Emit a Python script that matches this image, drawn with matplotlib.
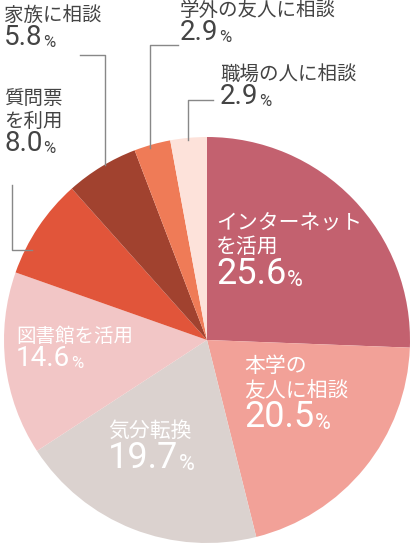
import matplotlib
matplotlib.use("Agg")
import matplotlib.pyplot as plt

plt.rcParams['font.family'] = ['Noto Sans CJK JP', 'DejaVu Sans']

labels = ["インターネット\nを活用", "本学の\n友人に相談", "気分転換", "図書館を活用",
          "質問票\nを利用", "家族に相談", "学外の友人に相談", "職場の人に相談"]
values = [25.6, 20.5, 19.7, 14.6, 8.0, 5.8, 2.9, 2.9]
colors = ["#c3616f", "#f2a198", "#dbd2cf", "#f2c6c6", "#e1553a", "#a1422f", "#ef7b57", "#fde2da"]

W, H = 411, 545
fig = plt.figure(figsize=(W/100, H/100), dpi=100)
cx, cy, R = 207, 340, 203
ax = fig.add_axes([(cx-R)/W, (H-cy-R)/H, 2*R/W, 2*R/H])
ax.pie(values, colors=colors, startangle=90, counterclock=False,
       wedgeprops=dict(linewidth=0))
ax.set_xlim(-1, 1); ax.set_ylim(-1, 1); ax.set_aspect('equal'); ax.axis('off')

def P(x, y):
    return x/W, 1-y/H

def put(x, y, i, color, lfs, nfs, gap=-2):
    t = fig.text(*P(x, y), labels[i], color=color, fontsize=lfs, ha='left', va='top', linespacing=1.1)
    fig.canvas.draw()
    bb = t.get_window_extent()
    ny = H - bb.y0 + gap
    n = fig.text(*P(x, ny), f"{values[i]:.1f}", color=color, fontsize=nfs, ha='left', va='top',
                 family='Roboto')
    fig.canvas.draw()
    nb = n.get_window_extent()
    fig.text(nb.x1/W + 0.002, nb.y0/H + 0.002, "%", color=color, fontsize=nfs*0.6, ha='left',
             va='bottom', family='Roboto')

dark = "#444444"
put(216, 212, 0, "white", 15, 26)
put(244, 355, 1, "white", 15, 26)
put(108, 420, 2, "white", 15, 26)
put(16, 326, 3, "white", 14, 20)
put(4, 88, 4, dark, 14, 20)
put(4, 5, 5, dark, 14, 20)
put(180, 0, 6, dark, 14, 20)
put(220, 64, 7, dark, 14, 20)

lc = "#888888"
def line(pts):
    xs = [p[0]/W for p in pts]; ys = [1-p[1]/H for p in pts]
    fig.add_artist(plt.Line2D(xs, ys, color=lc, lw=1))
line([(80, 55), (105, 55), (105, 165)])
line([(178, 45), (150, 45), (150, 148)])
line([(213, 100), (188, 100), (188, 140)])
line([(12, 185), (12, 250), (32, 250)])

fig.savefig("out.png", dpi=100)
